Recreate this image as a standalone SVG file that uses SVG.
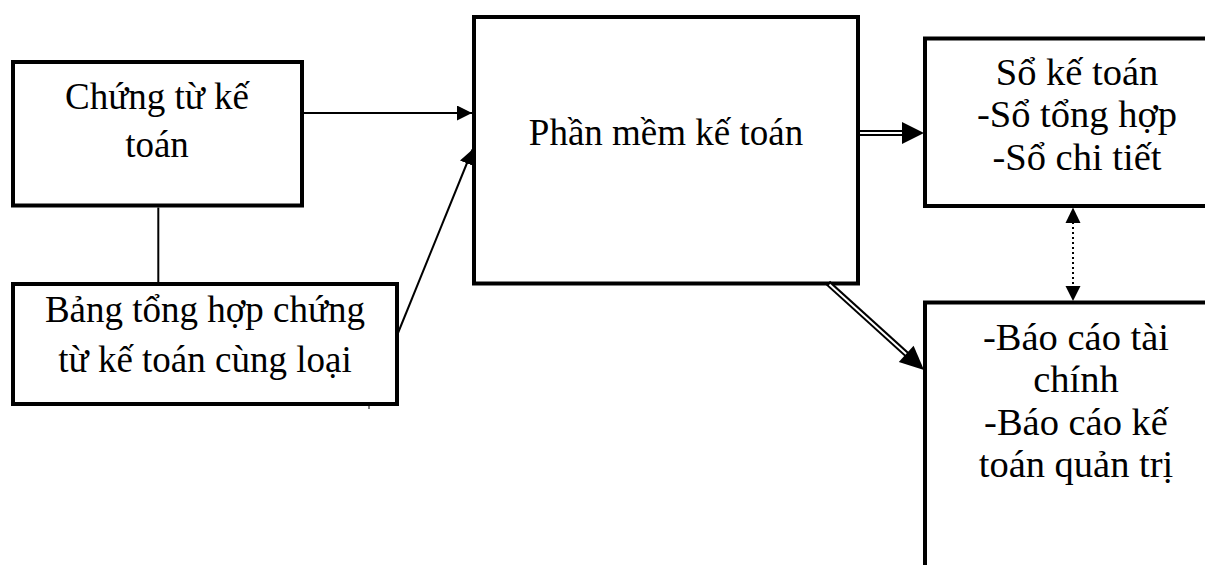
<svg xmlns="http://www.w3.org/2000/svg" width="1205" height="565" viewBox="0 0 1205 565">
<style>
.box{fill:#fff;stroke:#000;stroke-width:4}
.t{font-family:"Liberation Serif","Times New Roman",serif;font-size:37px;fill:#000;text-anchor:middle}
.tr{font-size:38.5px}
.ln{stroke:#000;stroke-width:2;fill:none}
.dbl{stroke:#000;stroke-width:6;fill:none}
.dblin{stroke:#fff;stroke-width:2;fill:none}
.dot{stroke:#000;stroke-width:2;stroke-dasharray:2 3;fill:none}
</style>
<defs>
<marker id="ah" markerUnits="userSpaceOnUse" markerWidth="15" markerHeight="15" refX="15" refY="7.5" orient="auto">
<path d="M0,0 L15,7.5 L0,15 z" fill="#000"/>
</marker>
</defs>
<rect width="1205" height="565" fill="#fff"/>
<g id="n1">
<rect class="box" x="13" y="62" width="289" height="143.5"/>
<text class="t" x="157" y="109">Chứng từ kế</text>
<text class="t" x="157" y="157">toán</text>
</g>
<g id="n2">
<rect class="box" x="13" y="284" width="384" height="120"/>
<text class="t" x="205" y="322">Bảng tổng hợp chứng</text>
<text class="t" x="205" y="372">từ kế toán cùng loại</text>
</g>
<g id="n3">
<rect class="box" x="474" y="17" width="384" height="266.5"/>
<text class="t" x="666" y="145">Phần mềm kế toán</text>
</g>
<g id="n4">
<rect class="box" x="925" y="38.5" width="300" height="167.5"/>
<text class="t tr" x="1077" y="85">Sổ kế toán</text>
<text class="t tr" x="1077" y="127">-Sổ tổng hợp</text>
<text class="t tr" x="1077" y="169.5">-Sổ chi tiết</text>
</g>
<g id="n5">
<rect class="box" x="925" y="302.5" width="300" height="300"/>
<text class="t tr" x="1076" y="349.5">-Báo cáo tài</text>
<text class="t tr" x="1076" y="392">chính</text>
<text class="t tr" x="1076" y="434.5">-Báo cáo kế</text>
<text class="t tr" x="1076" y="477">toán quản trị</text>
</g>
<g id="connectors">
<line class="ln" x1="158.3" y1="207.5" x2="158.3" y2="282"/>
<line class="ln" x1="304" y1="113" x2="472" y2="113" marker-end="url(#ah)"/>
<line class="ln" x1="398" y1="333" x2="472.5" y2="149.5" marker-end="url(#ah)"/>
<line class="dbl" x1="860" y1="133" x2="904" y2="133"/>
<line class="dblin" x1="860" y1="133" x2="905" y2="133"/>
<polygon points="924,133 902,122 902,144" fill="#000"/>
<line class="dbl" x1="828" y1="283" x2="908" y2="355.5"/>
<line class="dblin" x1="829.5" y1="284.4" x2="909" y2="356.4"/>
<polygon points="924,370 898.8,362 913.6,345.8" fill="#000"/>
<line class="dot" x1="1073" y1="222" x2="1073" y2="287"/>
<polygon points="1073,207.5 1065.5,223 1080.5,223" fill="#000"/>
<polygon points="1073,301 1065.5,286 1080.5,286" fill="#000"/>
<line stroke="#000" stroke-width="1" x1="369" y1="406" x2="369" y2="409"/>
</g>
</svg>
